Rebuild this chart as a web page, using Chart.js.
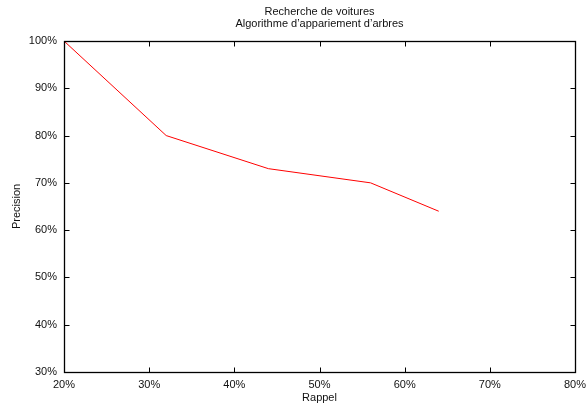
<!DOCTYPE html>
<html>
<head>
<meta charset="utf-8">
<script src="https://cdn.jsdelivr.net/npm/chart.js@4/dist/chart.umd.min.js"></script>
<style>
html,body{margin:0;padding:0;background:#fff;}
canvas{display:block;}
</style>
</head>
<body>
<canvas id="c" width="587" height="409"></canvas>
<script>
const titleLines = ['Recherche de voitures', 'Algorithme d\u2019appariement d\u2019arbres'];
const xLabel = 'Rappel';
const yLabel = 'Precision';
const recall = [20, 32, 44, 56, 64];
const precision = [100, 80, 73, 70, 64];
const xTickValues = [20, 30, 40, 50, 60, 70, 80];
const yTickValues = [30, 40, 50, 60, 70, 80, 90, 100];

const FONT = {family: '"Liberation Sans", Arial, Helvetica, sans-serif', size: 11, weight: 'normal', lineHeight: '12px'};

const frame = {
  id: 'frame',
  afterDraw(chart) {
    const ctx = chart.ctx;
    const a = chart.chartArea;
    const xs = chart.scales.x, ys = chart.scales.y;
    ctx.save();
    ctx.strokeStyle = '#000';
    ctx.lineWidth = 1;
    ctx.beginPath();
    const L = Math.round(a.left) + 0.5, R = Math.round(a.right) + 0.5;
    const T = Math.round(a.top) + 0.5, B = Math.round(a.bottom) + 0.5;
    const len = 5;
    xTickValues.forEach(v => {
      const px = Math.round(xs.getPixelForValue(v)) + 0.5;
      ctx.moveTo(px, B); ctx.lineTo(px, B - len);
      ctx.moveTo(px, T); ctx.lineTo(px, T + len);
    });
    yTickValues.forEach(v => {
      const py = Math.round(ys.getPixelForValue(v)) + 0.5;
      ctx.moveTo(L, py); ctx.lineTo(L + len, py);
      ctx.moveTo(R, py); ctx.lineTo(R - len, py);
    });
    ctx.stroke();
    ctx.lineWidth = 1.3;
    ctx.strokeRect(L, T, R - L, B - T);
    ctx.restore();
  }
};

new Chart(document.getElementById('c'), {
  type: 'line',
  data: {
    datasets: [{
      data: recall.map((x, i) => ({x: x, y: precision[i]})),
      borderColor: '#ff0000',
      borderWidth: 1,
      pointRadius: 0,
      tension: 0,
      fill: false
    }]
  },
  options: {
    responsive: false,
    animation: false,
    devicePixelRatio: 1,
    layout: {padding: {left: 0, right: 12, top: 0, bottom: 0}},
    plugins: {
      legend: {display: false},
      tooltip: {enabled: false},
      title: {display: false}
    },
    scales: {
      x: {
        type: 'linear',
        position: 'bottom',
        min: 20, max: 80,
        afterBuildTicks(s) { s.ticks = xTickValues.map(v => ({value: v})); },
        afterFit(s) { s.height = 37; s.paddingRight = 0; s.paddingLeft = 0; },
        grid: {display: false, drawTicks: false},
        border: {display: false},
        ticks: {
          callback: v => v + '%',
          color: '#111', font: FONT, padding: 7, maxRotation: 0, autoSkip: false
        },
        title: {display: true, text: xLabel, color: '#111', font: FONT, padding: {top: 0, bottom: 5}}
      },
      xTop: {
        type: 'linear',
        position: 'top',
        min: 20, max: 80,
        afterFit(s) { s.height = 41; s.paddingRight = 0; s.paddingLeft = 0; },
        grid: {display: false, drawTicks: false},
        border: {display: false},
        ticks: {display: false},
        title: {display: true, text: titleLines, color: '#111', font: FONT, padding: {top: 6, bottom: 0}}
      },
      y: {
        min: 30, max: 100,
        afterBuildTicks(s) { s.ticks = yTickValues.map(v => ({value: v})); },
        afterFit(s) { s.width = 64; },
        grid: {display: false, drawTicks: false},
        border: {display: false},
        ticks: {
          callback: v => v + '%',
          color: '#111', font: FONT, padding: 7, autoSkip: false
        },
        title: {display: true, text: yLabel, color: '#111', font: FONT, padding: {top: 11, bottom: 0}}
      }
    }
  },
  plugins: [frame]
});
</script>
</body>
</html>
